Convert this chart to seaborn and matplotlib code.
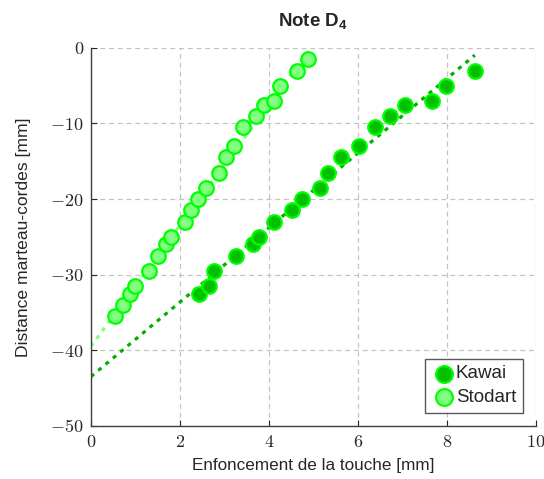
import numpy as np
import seaborn as sns
import matplotlib.pyplot as plt
from matplotlib.ticker import FuncFormatter

# Kawai measurements
kawai_x = [2.43, 2.66, 2.76, 3.27, 3.65, 3.79, 4.11, 4.52, 4.74, 5.16,
           5.33, 5.63, 6.03, 6.38, 6.73, 7.06, 7.67, 7.97, 8.63]
kawai_y = [-32.5, -31.5, -29.5, -27.5, -26.0, -25.0, -23.0, -21.5, -20.0, -18.5,
           -16.5, -14.5, -13.0, -10.5, -9.0, -7.5, -7.0, -5.0, -3.0]

# Stodart measurements
stodart_x = [0.55, 0.73, 0.88, 1.00, 1.31, 1.51, 1.69, 1.80, 2.11, 2.24, 2.41,
             2.58, 2.87, 3.03, 3.21, 3.41, 3.71, 3.89, 4.11, 4.25, 4.64, 4.885]
stodart_y = [-35.5, -34.0, -32.5, -31.5, -29.5, -27.5, -26.0, -25.0, -23.0, -21.5, -20.0,
             -18.5, -16.5, -14.5, -13.0, -10.5, -9.0, -7.5, -7.0, -5.0, -3.0, -1.5]

# linear fits (slope, intercept)
kawai_fit = (4.93, -43.5)
stodart_fit = (8.0, -39.5)

sns.set_theme(style="white")
plt.rcParams['font.family'] = ['Liberation Sans', 'DejaVu Sans']
plt.rcParams['mathtext.fontset'] = 'cm'
plt.rcParams['mathtext.rm'] = 'Liberation Sans'
plt.rcParams['mathtext.bf'] = 'Liberation Sans:bold'

fig = plt.figure(figsize=(5.44, 4.79), dpi=100)
ax = fig.add_axes([0.167, 0.111, 0.818, 0.789])

dots = (0, (1.3, 1.7))
for xs, fit, col in [(kawai_x, kawai_fit, '#00b000'), (stodart_x, stodart_fit, '#80ff80')]:
    fx = np.array([0.0, max(xs)])
    sns.lineplot(x=fx, y=fit[0] * fx + fit[1], ax=ax, color=col, lw=2.3,
                 linestyle=dots, zorder=2)
for line in ax.lines:
    line.set_dash_capstyle('butt')

sns.scatterplot(x=kawai_x, y=kawai_y, ax=ax, s=110, color='#00c000',
                edgecolor='#00ff00', linewidth=1.6, label='Kawai', zorder=3)
sns.scatterplot(x=stodart_x, y=stodart_y, ax=ax, s=110, color='#80ff80',
                edgecolor='#00ff00', linewidth=1.6, label='Stodart', zorder=3)

ax.set_xlim(0, 10)
ax.set_ylim(-50, 0)
ax.set_xticks(range(0, 11, 2))
ax.set_yticks(range(-50, 1, 10))
fmt = FuncFormatter(lambda v, p: f"${v:g}$")
ax.xaxis.set_major_formatter(fmt)
ax.yaxis.set_major_formatter(fmt)
ax.tick_params(direction='in', length=4, width=0.8, colors='#262626',
               labelsize=13, left=True, bottom=True)
ax.tick_params(axis='x', pad=6)
ax.tick_params(axis='y', pad=5)
ax.grid(True, linestyle=(0, (4, 3)), color='#c4c4c4', lw=0.9)
for s in ['top', 'right']:
    ax.spines[s].set_visible(False)
for s in ['left', 'bottom']:
    ax.spines[s].set_color('#404040')
    ax.spines[s].set_linewidth(1.0)

ax.set_xlabel('Enfoncement de la touche [mm]', fontsize=12.3, color='#262626', labelpad=5)
ax.set_ylabel('Distance marteau-cordes [mm]', fontsize=12.6, color='#262626', labelpad=14)
ax.set_title('Note D$_\\mathbf{4}$', fontsize=13.5, fontweight='bold', pad=15,
             math_fontfamily='custom')

leg = ax.legend(loc='lower right', fontsize=13.5, frameon=True, fancybox=False,
                edgecolor='#303030', handletextpad=0.0, borderpad=0.35,
                labelspacing=0.35, handlelength=1.3, borderaxespad=0.7,
                markerscale=1.15)
leg.get_frame().set_linewidth(1.0)

fig.savefig('out.png', dpi=100)
